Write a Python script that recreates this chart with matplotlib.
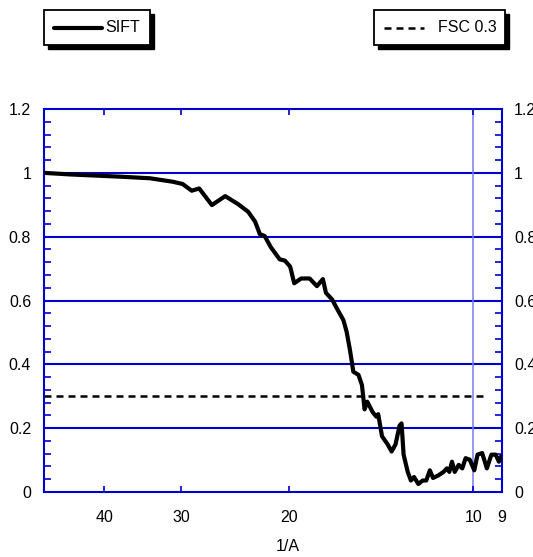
import matplotlib.pyplot as plt
from matplotlib.patches import Rectangle
from matplotlib.lines import Line2D
from matplotlib.transforms import Affine2D
from matplotlib.ticker import FixedLocator, FixedFormatter, NullLocator, MultipleLocator

plt.rcParams['font.family'] = ['Liberation Sans', 'DejaVu Sans']

# resolution (A) and FSC values
res = [50.2, 45.5, 37.7, 33.7, 30.9, 29.8, 28.8, 28.0, 26.7, 25.4,
       24.2, 23.3, 22.7, 22.3, 21.9, 21.4, 20.7, 20.3, 19.9, 19.6,
       19.1, 18.5, 18.0, 17.6, 17.4, 17.0, 16.7, 16.3, 16.1, 15.9,
       15.7, 15.4, 15.2, 15.05, 14.9, 14.6, 14.4, 14.3, 14.1, 13.8,
       13.6, 13.4, 13.2, 13.1, 13.0, 12.8, 12.65, 12.5, 12.3, 12.1,
       11.94, 11.78, 11.64, 11.41, 11.19, 11.05, 10.95, 10.84, 10.73, 10.57,
       10.43, 10.30, 10.14, 9.97, 9.85, 9.68, 9.51, 9.35, 9.20, 9.09, 9.02]
fsc = [1.000, 0.995, 0.988, 0.983, 0.972, 0.965, 0.944, 0.951, 0.899, 0.927,
       0.902, 0.878, 0.847, 0.808, 0.802, 0.767, 0.729, 0.725, 0.706, 0.654,
       0.669, 0.669, 0.645, 0.667, 0.624, 0.603, 0.575, 0.539, 0.502, 0.445,
       0.377, 0.367, 0.335, 0.259, 0.283, 0.250, 0.236, 0.244, 0.175, 0.149,
       0.127, 0.149, 0.208, 0.215, 0.117, 0.063, 0.036, 0.047, 0.025, 0.036,
       0.036, 0.068, 0.044, 0.052, 0.063, 0.074, 0.063, 0.095, 0.063, 0.085,
       0.074, 0.106, 0.101, 0.068, 0.117, 0.122, 0.074, 0.117, 0.117, 0.095, 0.111]

fsc_cut = 0.3
cut_range = [50.2, 9.52]
res_mark = 10
xticks = [40, 30, 20, 10, 9]
yticks = [0, 0.2, 0.4, 0.6, 0.8, 1.0, 1.2]
ylabels = ['0', '0.2', '0.4', '0.6', '0.8', '1', '1.2']

blue = '#0000cc'

fig = plt.figure(figsize=(5.33, 5.57), dpi=100)
ax = fig.add_axes([0.082, 0.1167, 0.859, 0.6876])
ax.set_xscale('log')
ax.set_xlim(50.2, 9.0)
ax.set_ylim(0, 1.2)

for y in yticks[1:-1]:
    ax.axhline(y, color=blue, lw=1.5, zorder=1)
ax.axvline(res_mark, color='#7a7aee', lw=1.1, zorder=1)

ax.plot(cut_range, [fsc_cut, fsc_cut], color='black', lw=1.8, dashes=(2.8, 2.0), zorder=2)
ax.plot(res, fsc, color='black', lw=3, solid_joinstyle='round', solid_capstyle='round', zorder=3)

ax.xaxis.set_major_locator(FixedLocator(xticks))
ax.xaxis.set_major_formatter(FixedFormatter([str(t) for t in xticks]))
ax.xaxis.set_minor_locator(NullLocator())
ax.tick_params(axis='x', which='major', direction='in', length=4, width=1.2,
               color=blue, top=True, pad=13, labelsize=11.5)

ax.yaxis.set_major_locator(FixedLocator(yticks))
ax.yaxis.set_major_formatter(FixedFormatter(ylabels))
ax.yaxis.set_minor_locator(MultipleLocator(0.04))
ax.tick_params(axis='y', which='major', direction='in', length=0, right=True,
               labelright=True, pad=9, labelsize=11.5)
ax.tick_params(axis='y', which='minor', direction='in', length=5, width=1.2,
               color=blue, right=True)

for s in ax.spines.values():
    s.set_color(blue)
    s.set_linewidth(1.5)

ax.set_xlabel('1/A', fontsize=11.5)
ax.xaxis.set_label_coords(0.534, -0.122)

# legend boxes, placed in pixel coords from the top-left corner
pix = Affine2D().scale(1 / 533, -1 / 557).translate(0, 1) + fig.transFigure


def legend_box(x0, x1, y0, y1, ls, lx0, lx1, label, tx):
    fig.add_artist(Rectangle((x0 + 3.5, y0 + 3.5), x1 - x0, y1 - y0, transform=pix,
                             facecolor='black', edgecolor='black', lw=1))
    fig.add_artist(Rectangle((x0, y0), x1 - x0, y1 - y0, transform=pix,
                             facecolor='white', edgecolor='black', lw=1.3))
    ym = (y0 + y1) / 2
    if ls == 'solid':
        fig.add_artist(Line2D([lx0, lx1], [ym, ym], transform=pix, color='black',
                              lw=3, solid_capstyle='round'))
    else:
        fig.add_artist(Line2D([lx0, lx1], [ym, ym], transform=pix, color='black',
                              lw=1.8, dashes=(2.8, 2.0)))
    fig.text(tx, ym + 0.5, label, transform=pix, fontsize=11.5, va='center', ha='left')


legend_box(44, 150, 10, 45, 'solid', 54, 102, 'SIFT', 105)
legend_box(374, 505, 10, 45, 'dashed', 384, 424, 'FSC 0.3', 438)

plt.savefig('out.png', dpi=100)
